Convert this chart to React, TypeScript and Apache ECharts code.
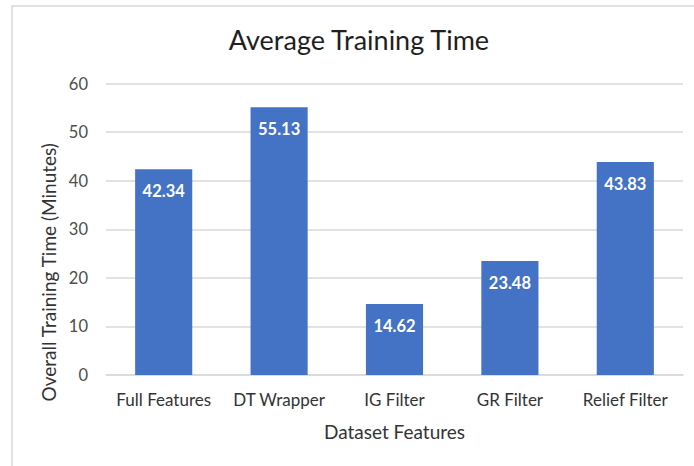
import React, { useEffect, useRef } from "react";
import * as echarts from "echarts";

const categories = ["Full Features", "DT Wrapper", "IG Filter", "GR Filter", "Relief Filter"];
const values = [42.34, 55.13, 14.62, 23.48, 43.83];
const yTicks = { min: 0, max: 60, interval: 10 };

const FONT = "Lato, 'Open Sans', sans-serif";

export default function App() {
  const ref = useRef<HTMLDivElement>(null);
  useEffect(() => {
    if (!ref.current) return;
    const chart = echarts.init(ref.current, undefined, { renderer: "svg" });
    chart.setOption({
      animation: false,
      backgroundColor: "#ffffff",
      textStyle: { fontFamily: FONT },
      graphic: [
        {
          type: "rect",
          shape: { x: 12, y: 6, width: 720, height: 520 },
          style: { fill: "none", stroke: "#d9d9d9", lineWidth: 1.5 },
          silent: true,
          z: -1,
        },
      ],
      title: {
        text: "Average Training Time",
        left: 354,
        top: 21,
        textAlign: "center",
        textStyle: { fontFamily: FONT, fontSize: 27, fontWeight: "normal", color: "#1f1f1f" },
      },
      grid: { left: 106, right: 11, top: 83.5, bottom: 91, containLabel: false },
      xAxis: {
        type: "category",
        data: categories,
        name: "Dataset Features",
        nameLocation: "middle",
        nameGap: 47,
        nameTextStyle: { fontFamily: FONT, fontSize: 19, color: "#333333" },
        axisLine: { show: true, lineStyle: { color: "#d9d9d9", width: 1.5 } },
        axisTick: { show: false },
        axisLabel: { fontFamily: FONT, fontSize: 17, color: "#333333", margin: 16, interval: 0 },
      },
      yAxis: {
        type: "value",
        min: yTicks.min,
        max: yTicks.max,
        interval: yTicks.interval,
        name: "Overall Training Time (Minutes)",
        nameLocation: "middle",
        nameGap: 48.5,
        nameRotate: 90,
        nameTextStyle: { fontFamily: FONT, fontSize: 19, color: "#333333", padding: [0, 86, 0, 0] },
        axisLine: { show: false },
        axisTick: { show: false },
        axisLabel: { fontFamily: FONT, fontSize: 16.5, color: "#4d4d4d", margin: 18 },
        splitLine: { lineStyle: { color: "#d9d9d9", width: 1.5 } },
      },
      series: [
        {
          type: "bar",
          data: values,
          barWidth: "49.5%",
          itemStyle: { color: "#4472C4" },
          label: {
            show: true,
            position: "insideTop",
            distance: 13.5,
            fontFamily: FONT,
            fontSize: 16.5,
            fontWeight: "bold",
            color: "#ffffff",
            formatter: (p: any) => p.value.toFixed(2),
          },
        },
      ],
    });
    return () => chart.dispose();
  }, []);
  return <div ref={ref} style={{ width: 694, height: 466, position: "fixed", left: 0, top: 0 }} />;
}
